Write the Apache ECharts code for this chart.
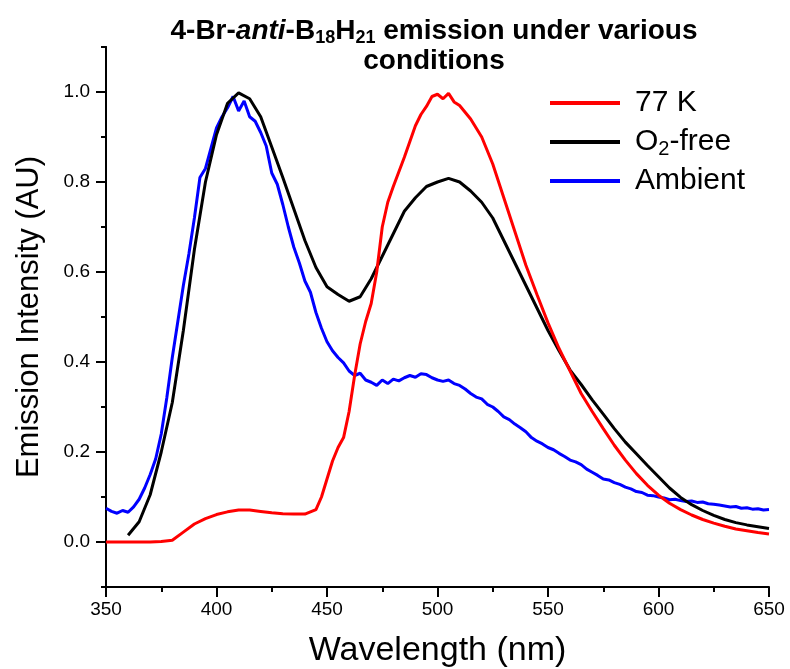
<!DOCTYPE html>
<html>
<head>
<meta charset="utf-8">
<script src="https://cdn.jsdelivr.net/npm/echarts@6/dist/echarts.min.js"></script>
<style>
html,body{margin:0;padding:0;background:#fff;}
#chart{width:790px;height:669px;}
</style>
</head>
<body>
<div id="chart"></div>
<script>
// 77 K
const redWavelengths = [350,355,360,365,370,375,380,385,390,395,400,405,410,415,420,425,430,435,440,445,447.5,450,452.5,455,457.5,460,462.5,465,467.5,470,472.5,475,477.5,480,485,490,492.5,495,497.5,500,502.5,505,507.5,510,512.5,515,520,525,530,535,540,545,550,555,560,565,570,575,580,585,590,595,600,605,610,615,620,625,630,635,640,645,650];
const red77K = [0,0,0,0,0,0.001,0.004,0.022,0.04,0.052,0.061,0.067,0.071,0.071,0.068,0.065,0.063,0.062,0.062,0.072,0.10,0.14,0.18,0.21,0.232,0.29,0.37,0.44,0.49,0.53,0.60,0.70,0.755,0.79,0.855,0.925,0.95,0.968,0.99,0.995,0.985,0.997,0.978,0.97,0.955,0.94,0.90,0.84,0.765,0.69,0.615,0.55,0.487,0.43,0.38,0.33,0.29,0.252,0.215,0.182,0.152,0.126,0.104,0.086,0.072,0.06,0.05,0.042,0.035,0.029,0.025,0.021,0.018];

// O2-free
const blackWavelengths = [360,365,370,375,380,385,390,395,400,405,410,415,420,425,430,435,440,445,450,455,460,465,470,475,480,485,490,495,500,505,510,515,520,525,530,535,540,545,550,555,560,565,570,575,580,585,590,595,600,605,610,615,620,625,630,635,640,645,650];
const blackO2free = [0.015,0.045,0.105,0.20,0.31,0.47,0.65,0.80,0.905,0.975,0.998,0.985,0.945,0.878,0.81,0.74,0.67,0.61,0.567,0.55,0.535,0.545,0.585,0.635,0.685,0.735,0.765,0.79,0.80,0.808,0.80,0.78,0.755,0.72,0.67,0.62,0.57,0.52,0.47,0.425,0.382,0.35,0.316,0.284,0.252,0.222,0.196,0.17,0.145,0.12,0.099,0.083,0.07,0.059,0.05,0.043,0.038,0.034,0.030];

// Ambient
const blueWavelengths = [350,352.5,355,357.5,360,362.5,365,367.5,370,372.5,375,377.5,380,382.5,385,387.5,390,392.5,395,397.5,400,402.5,405,407.5,410,412.5,415,417.5,420,422.5,425,427.5,430,432.5,435,437.5,440,442.5,445,447.5,450,452.5,455,457.5,460,462.5,465,467.5,470,472.5,475,477.5,480,482.5,485,487.5,490,492.5,495,497.5,500,502.5,505,507.5,510,512.5,515,517.5,520,522.5,525,527.5,530,532.5,535,537.5,540,542.5,545,547.5,550,552.5,555,557.5,560,562.5,565,567.5,570,572.5,575,577.5,580,582.5,585,587.5,590,592.5,595,597.5,600,602.5,605,607.5,610,612.5,615,617.5,620,622.5,625,627.5,630,632.5,635,637.5,640,642.5,645,647.5,650];
const blueAmbient = [0.075,0.068,0.064,0.07,0.066,0.078,0.095,0.12,0.15,0.185,0.24,0.32,0.41,0.49,0.57,0.64,0.72,0.81,0.83,0.875,0.92,0.945,0.965,0.99,0.958,0.98,0.945,0.935,0.91,0.88,0.82,0.795,0.75,0.70,0.655,0.62,0.58,0.555,0.51,0.475,0.445,0.425,0.41,0.398,0.38,0.37,0.375,0.36,0.355,0.348,0.36,0.352,0.362,0.358,0.365,0.37,0.366,0.374,0.372,0.365,0.36,0.357,0.36,0.352,0.348,0.34,0.33,0.322,0.318,0.306,0.30,0.29,0.278,0.272,0.262,0.254,0.245,0.232,0.224,0.218,0.21,0.205,0.197,0.19,0.182,0.178,0.172,0.162,0.155,0.148,0.14,0.138,0.132,0.128,0.122,0.118,0.112,0.11,0.104,0.103,0.10,0.098,0.094,0.095,0.092,0.09,0.091,0.088,0.089,0.085,0.084,0.082,0.08,0.078,0.079,0.075,0.076,0.073,0.074,0.071,0.072];

const xTicks = [350,400,450,500,550,600,650];
const yMajor = [0.0,0.2,0.4,0.6,0.8,1.0];
const yMinor = [-0.1,0.1,0.3,0.5,0.7,0.9,1.1];

const seriesNames = ['77 K','O2-free','Ambient'];
const seriesColors = ['#ff0000','#000000','#0000ff'];
const seriesX = [redWavelengths, blackWavelengths, blueWavelengths];
const seriesY = [red77K, blackO2free, blueAmbient];

const FONT = '"Liberation Sans", Arial, sans-serif';

const chart = echarts.init(document.getElementById('chart'), null, {renderer:'canvas'});

const axisCommon = {
  axisLine:{show:true,onZero:false,lineStyle:{color:'#000',width:2}},
  splitLine:{show:false}
};

const option = {
  backgroundColor:'#fff',
  animation:false,
  title:{
    text:'{b|4-Br-}{i|anti}{b|-B}{s|18}{b|H}{s|21}{b| emission under various}\n{b|conditions}',
    left:429, top:11, textAlign:'center',
    textStyle:{
      rich:{
        b:{fontFamily:FONT,fontWeight:'bold',fontSize:28,color:'#000',lineHeight:30},
        i:{fontFamily:FONT,fontWeight:'bold',fontStyle:'italic',fontSize:28,color:'#000',lineHeight:30},
        s:{fontFamily:FONT,fontWeight:'bold',fontSize:18,color:'#000',lineHeight:30,padding:[14,0,0,0]}
      }
    }
  },
  legend:{
    orient:'vertical', left:545, top:83,
    itemWidth:70, itemHeight:4, itemGap:7, icon:'rect',
    data:seriesNames,
    formatter:function(n){ return n==='O2-free' ? '{t|O}{s|2}{t|-free}' : '{t|'+n+'}'; },
    textStyle:{
      fontFamily:FONT,fontSize:30,color:'#000',padding:[0,0,0,10],
      rich:{
        t:{fontFamily:FONT,fontSize:30,color:'#000',lineHeight:32},
        s:{fontFamily:FONT,fontSize:20,color:'#000',lineHeight:32,padding:[14,0,0,0]}
      }
    }
  },
  grid:{left:106,right:21,top:47,bottom:82,containLabel:false,outerBoundsMode:'none'},
  xAxis:[
    Object.assign({}, axisCommon, {
      type:'value', min:350, max:650, interval:50, position:'bottom',
      name:'Wavelength (nm)', nameLocation:'middle', nameGap:47,
      nameTextStyle:{fontFamily:FONT,fontSize:34,color:'#000'},
      axisTick:{show:true,inside:false,length:10,lineStyle:{color:'#000',width:2},customValues:xTicks},
      minorTick:{show:true,splitNumber:2,length:5,lineStyle:{color:'#000',width:2}},
      axisLabel:{fontFamily:FONT,fontSize:19,color:'#000',margin:13,customValues:xTicks}
    })
  ],
  yAxis:[
    Object.assign({}, axisCommon, {
      type:'value', min:-0.1, max:1.1, interval:0.1,
      name:'Emission Intensity (AU)', nameLocation:'middle', nameGap:61, nameRotate:90,
      nameTextStyle:{fontFamily:FONT,fontSize:31,color:'#000'},
      axisTick:{show:true,inside:false,length:10,lineStyle:{color:'#000',width:2},customValues:yMajor},
      axisLabel:{fontFamily:FONT,fontSize:19,color:'#000',margin:16,customValues:yMajor,
        formatter:function(v){return v.toFixed(1);}}
    }),
    Object.assign({}, axisCommon, {
      type:'value', min:-0.1, max:1.1, interval:0.1, position:'left',
      axisTick:{show:true,inside:false,length:5,lineStyle:{color:'#000',width:2},customValues:yMinor},
      axisLabel:{show:false}
    })
  ],
  series: seriesNames.map(function(name,k){
    return {
      name:name, type:'line', showSymbol:false, symbol:'none', smooth:false,
      yAxisIndex:0,
      lineStyle:{color:seriesColors[k],width:3},
      itemStyle:{color:seriesColors[k]},
      data: seriesX[k].map(function(w,i){ return [w, seriesY[k][i]]; }),
      z: 3-k
    };
  })
};
chart.setOption(option);
</script>
</body>
</html>
